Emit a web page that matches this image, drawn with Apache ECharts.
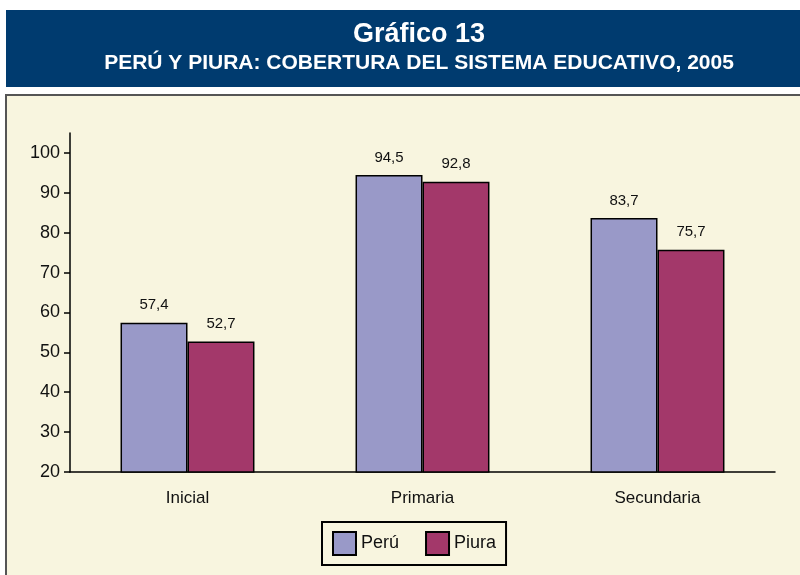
<!DOCTYPE html>
<html>
<head>
<meta charset="utf-8">
<script src="https://cdn.jsdelivr.net/npm/echarts@6/dist/echarts.min.js"></script>
<style>
  html, body { margin: 0; padding: 0; background: #fff; }
  #main { width: 800px; height: 575px; }
</style>
</head>
<body>
<div id="main"></div>
<script>
// datos del gráfico
var niveles = ['Inicial', 'Primaria', 'Secundaria'];
var peru = [57.4, 94.5, 83.7];
var piura = [52.7, 92.8, 75.7];
var marcasY = [20, 30, 40, 50, 60, 70, 80, 90, 100];

var fuente = '"Liberation Sans", Arial, sans-serif';
var coma = function (p) { return String(p.value).replace('.', ','); };

var myChart = echarts.init(document.getElementById('main'));
myChart.setOption({
  animation: false,
  textStyle: { fontFamily: fuente },
  graphic: [
    { type: 'rect', z: -10, shape: { x: 6, y: 10, width: 800, height: 77 }, style: { fill: '#003B6F' } },
    { type: 'rect', z: -10, shape: { x: 6, y: 95, width: 800, height: 500 }, style: { fill: '#F8F5DF', stroke: '#555555', lineWidth: 2 } }
  ],
  title: {
    text: 'Gráfico 13',
    subtext: 'PERÚ Y PIURA: COBERTURA DEL SISTEMA EDUCATIVO, 2005',
    left: 414,
    top: 16,
    textAlign: 'center',
    itemGap: 5,
    textStyle: { color: '#fff', fontSize: 27, fontWeight: 'bold', fontFamily: fuente },
    subtextStyle: { color: '#fff', fontSize: 21, fontWeight: 'bold', fontFamily: fuente }
  },
  legend: {
    data: ['Perú', 'Piura'],
    left: 322,
    top: 522,
    padding: [9, 10, 9, 10],
    borderColor: '#000',
    borderWidth: 2,
    itemWidth: 23,
    itemHeight: 23,
    itemGap: 26,
    icon: 'rect',
    textStyle: { fontSize: 18, color: '#111', fontFamily: fuente }
  },
  grid: { left: 70, right: 25, top: 133, bottom: 103 },
  xAxis: {
    type: 'category',
    data: niveles,
    axisLine: { lineStyle: { color: '#000', width: 1.5 } },
    axisTick: { length: 6, lineStyle: { color: '#000', width: 1.5 } },
    axisLabel: { fontSize: 17, color: '#111', margin: 18 }
  },
  yAxis: {
    type: 'value',
    min: 20,
    max: 105,
    interval: 10,
    splitLine: { show: false },
    axisLine: { show: true, lineStyle: { color: '#000', width: 1.5 } },
    axisTick: { show: true, length: 6, customValues: marcasY, lineStyle: { color: '#000', width: 1.5 } },
    axisLabel: { fontSize: 18, color: '#111', margin: 10, customValues: marcasY }
  },
  series: [
    {
      name: 'Perú',
      type: 'bar',
      data: peru,
      barGap: '0%',
      barCategoryGap: '43%',
      itemStyle: { color: '#9999C8', borderColor: '#000', borderWidth: 1.5 },
      label: { show: true, position: 'top', distance: 10, fontSize: 15, color: '#111', formatter: coma }
    },
    {
      name: 'Piura',
      type: 'bar',
      data: piura,
      itemStyle: { color: '#A3386A', borderColor: '#000', borderWidth: 1.5 },
      label: { show: true, position: 'top', distance: 10, fontSize: 15, color: '#111', formatter: coma }
    }
  ]
});
</script>
</body>
</html>
